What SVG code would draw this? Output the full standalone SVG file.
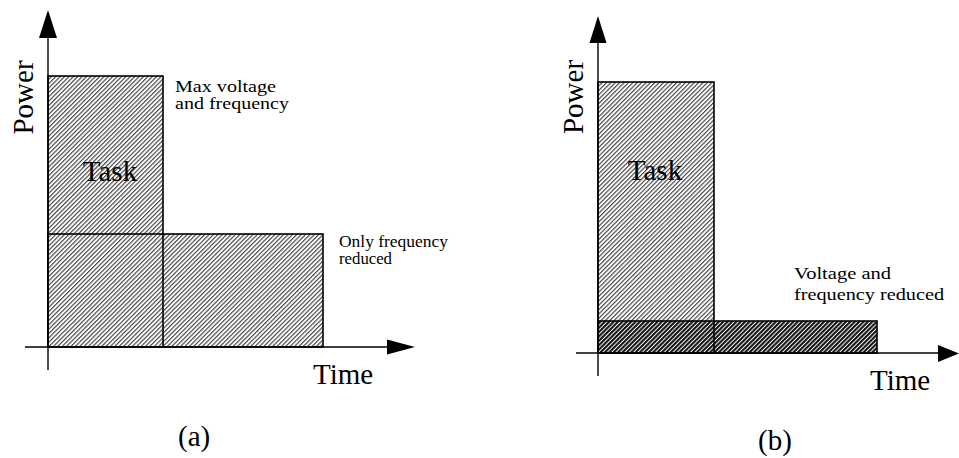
<svg xmlns="http://www.w3.org/2000/svg" width="959" height="458" viewBox="0 0 959 458">
  <defs>
    <!-- diagonal hatching, light and dense -->
    <pattern id="hatchLight" patternUnits="userSpaceOnUse" width="3.1" height="3.1" patternTransform="rotate(45)">
      <rect width="3.1" height="3.1" fill="#fff"/>
      <line x1="0.6" y1="0" x2="0.6" y2="3.1" stroke="#3a3a3a" stroke-width="1.1"/>
    </pattern>
    <pattern id="hatchDark" patternUnits="userSpaceOnUse" width="3.1" height="3.1" patternTransform="rotate(45)">
      <rect width="3.1" height="3.1" fill="#fff"/>
      <line x1="1.1" y1="0" x2="1.1" y2="3.1" stroke="#111" stroke-width="2.1"/>
    </pattern>
  </defs>
  <style>
    .serif { font-family: "Liberation Serif", "Times New Roman", serif; fill: #000; }
    .axis { stroke: #000; stroke-width: 1.4; fill: none; }
    .head { fill: #000; stroke: none; }
    .box { stroke: #000; stroke-width: 1.6; }
    .lbl { font-size: 16px; }
    .big { font-size: 29px; }
  </style>
  <rect width="959" height="458" fill="#fff"/>

  <!-- Panel (a): only frequency reduced -->
  <g id="panel-a">
    <g id="a-task">
      <rect class="box" x="48" y="76" width="115" height="271" fill="url(#hatchLight)"/>
      <text class="serif big" x="110" y="181" text-anchor="middle" font-size="28">Task</text>
    </g>
    <g id="a-reduced">
      <rect class="box" x="48" y="234" width="275" height="113" fill="url(#hatchLight)"/>
      <line class="box" x1="163" y1="234" x2="163" y2="347"/>
    </g>
    <g id="a-axes">
      <line class="axis" x1="48" y1="370" x2="48" y2="36"/>
      <polygon class="head" points="48,10 39,38 57,38"/>
      <line class="axis" x1="25" y1="347" x2="390" y2="347"/>
      <polygon class="head" points="415,347 387,339.5 387,354.5"/>
    </g>
    <text class="serif big" transform="translate(33,97.5) rotate(-90)" text-anchor="middle" font-size="28">Power</text>
    <text class="serif big" x="313" y="384">Time</text>
    <text class="serif lbl" x="175" y="92" textLength="101" lengthAdjust="spacingAndGlyphs">Max voltage</text>
    <text class="serif lbl" x="175" y="108.5" textLength="114" lengthAdjust="spacingAndGlyphs">and frequency</text>
    <text class="serif lbl" x="339" y="247" textLength="109" lengthAdjust="spacingAndGlyphs">Only frequency</text>
    <text class="serif lbl" x="339" y="264" textLength="53" lengthAdjust="spacingAndGlyphs">reduced</text>
    <text class="serif big" x="178" y="446">(a)</text>
  </g>

  <!-- Panel (b): voltage and frequency reduced -->
  <g id="panel-b">
    <g id="b-task">
      <rect class="box" x="598" y="82" width="116" height="271" fill="url(#hatchLight)"/>
      <text class="serif big" x="655" y="180" text-anchor="middle" font-size="28">Task</text>
    </g>
    <g id="b-reduced">
      <rect class="box" x="598" y="321" width="279" height="32" fill="url(#hatchDark)"/>
      <line class="box" x1="714" y1="321" x2="714" y2="353"/>
    </g>
    <g id="b-axes">
      <line class="axis" x1="598" y1="376" x2="598" y2="40"/>
      <polygon class="head" points="598,16 589.5,43 606.5,43"/>
      <line class="axis" x1="576" y1="353" x2="940" y2="353"/>
      <polygon class="head" points="959,353.5 938,345 938,362"/>
    </g>
    <text class="serif big" transform="translate(583,97) rotate(-90)" text-anchor="middle" font-size="28">Power</text>
    <text class="serif big" x="870" y="390">Time</text>
    <text class="serif lbl" x="794" y="279" textLength="97" lengthAdjust="spacingAndGlyphs">Voltage and</text>
    <text class="serif lbl" x="794" y="300" textLength="150" lengthAdjust="spacingAndGlyphs">frequency reduced</text>
    <text class="serif big" x="758" y="450">(b)</text>
  </g>
</svg>
